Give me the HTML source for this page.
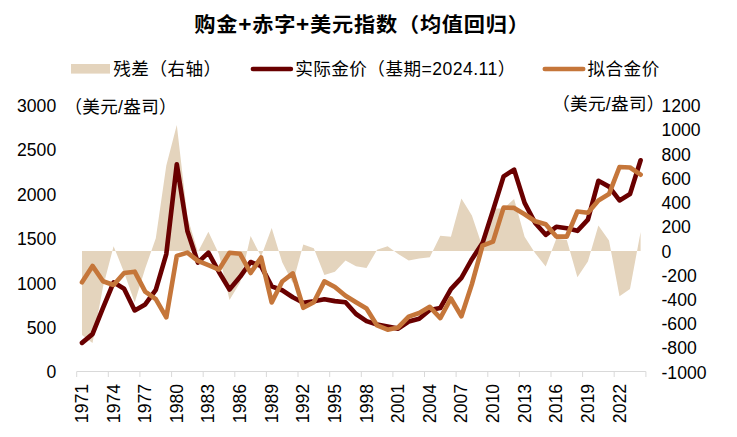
<!DOCTYPE html>
<html lang="zh"><head><meta charset="utf-8"><title>购金+赤字+美元指数（均值回归）</title>
<style>html,body{margin:0;padding:0;background:#fff}svg{display:block}text{font-family:"Liberation Sans","Noto Sans CJK SC",sans-serif;fill:#000}</style></head><body>
<svg width="737" height="437" viewBox="0 0 737 437">
<rect width="737" height="437" fill="#fff"/>
<text transform="translate(194.3,31.5) scale(1,0.94)" font-size="21.2" font-weight="bold" letter-spacing="0.77">购金<tspan font-size="22.6">+</tspan>赤字<tspan font-size="22.6">+</tspan>美元指数（均值回归）</text>
<rect x="71" y="64" width="39" height="9.6" fill="#E4D4BD"/>
<text x="113.3" y="75.0" font-size="17.6" letter-spacing="0.45">残差（右轴）</text>
<line x1="252.9" y1="69.0" x2="290.9" y2="69.0" stroke="#690000" stroke-width="4.6" stroke-linecap="round"/>
<text x="295.2" y="75.0" font-size="17.6" letter-spacing="0.45">实际金价（基期=2024.11）</text>
<line x1="544.8" y1="69.0" x2="583.2" y2="69.0" stroke="#C5763A" stroke-width="4.6" stroke-linecap="round"/>
<text x="587.5" y="75.0" font-size="17.6" letter-spacing="0.45">拟合金价</text>
<text x="64.4" y="112.8" font-size="17.6" letter-spacing="0.3">（美元/盎司）</text>
<text x="552.2" y="110.0" font-size="17.6" letter-spacing="0.3">（美元/盎司）</text>
<text x="56.2" y="378.3" text-anchor="end" font-size="17.6">0</text>
<text x="56.2" y="333.9" text-anchor="end" font-size="17.6">500</text>
<text x="56.2" y="289.5" text-anchor="end" font-size="17.6">1000</text>
<text x="56.2" y="245.1" text-anchor="end" font-size="17.6">1500</text>
<text x="56.2" y="200.6" text-anchor="end" font-size="17.6">2000</text>
<text x="56.2" y="156.2" text-anchor="end" font-size="17.6">2500</text>
<text x="56.2" y="111.8" text-anchor="end" font-size="17.6">3000</text>
<text x="661.5" y="112.1" font-size="17.6">1200</text>
<text x="661.5" y="136.3" font-size="17.6">1000</text>
<text x="661.5" y="160.6" font-size="17.6">800</text>
<text x="661.5" y="184.8" font-size="17.6">600</text>
<text x="661.5" y="209.0" font-size="17.6">400</text>
<text x="661.5" y="233.2" font-size="17.6">200</text>
<text x="661.5" y="257.5" font-size="17.6">0</text>
<text x="661.5" y="281.7" font-size="17.6">-200</text>
<text x="661.5" y="305.9" font-size="17.6">-400</text>
<text x="661.5" y="330.1" font-size="17.6">-600</text>
<text x="661.5" y="354.4" font-size="17.6">-800</text>
<text x="661.5" y="378.6" font-size="17.6">-1000</text>
<path d="M82.0,251.0 L82.0,335.0 L92.5,343.0 L103.0,287.1 L113.6,246.2 L124.1,272.4 L134.7,302.5 L145.2,268.5 L155.8,238.2 L166.3,165.5 L176.8,125.0 L187.4,217.0 L197.9,252.0 L208.4,231.8 L219.0,254.3 L229.5,300.0 L240.1,282.4 L250.6,236.0 L261.1,256.5 L271.7,227.9 L282.2,262.3 L292.8,283.0 L303.3,244.6 L313.8,248.3 L324.4,275.0 L334.9,271.7 L345.5,260.4 L356.0,266.2 L366.5,268.0 L377.1,249.8 L387.6,246.3 L398.2,254.1 L408.7,260.4 L419.2,258.4 L429.8,257.2 L440.3,235.8 L450.9,236.8 L461.4,198.6 L471.9,215.4 L482.5,247.0 L493.0,208.5 L503.6,208.5 L514.1,199.1 L524.6,236.8 L535.2,253.2 L545.7,266.5 L556.3,238.8 L566.8,240.0 L577.4,277.3 L587.9,261.5 L598.4,225.6 L609.0,240.4 L619.5,296.2 L630.0,289.1 L640.6,231.9 L640.6,251.0 Z" fill="#E4D4BD"/>
<g stroke="#D9D9D9" stroke-width="1" fill="none">
<line x1="76.7" y1="371.5" x2="645.9" y2="371.5"/>
<line x1="76.7" y1="371.5" x2="76.7" y2="377.0"/>
<line x1="108.3" y1="371.5" x2="108.3" y2="377.0"/>
<line x1="139.9" y1="371.5" x2="139.9" y2="377.0"/>
<line x1="171.6" y1="371.5" x2="171.6" y2="377.0"/>
<line x1="203.2" y1="371.5" x2="203.2" y2="377.0"/>
<line x1="234.8" y1="371.5" x2="234.8" y2="377.0"/>
<line x1="266.4" y1="371.5" x2="266.4" y2="377.0"/>
<line x1="298.0" y1="371.5" x2="298.0" y2="377.0"/>
<line x1="329.7" y1="371.5" x2="329.7" y2="377.0"/>
<line x1="361.3" y1="371.5" x2="361.3" y2="377.0"/>
<line x1="392.9" y1="371.5" x2="392.9" y2="377.0"/>
<line x1="424.5" y1="371.5" x2="424.5" y2="377.0"/>
<line x1="456.1" y1="371.5" x2="456.1" y2="377.0"/>
<line x1="487.8" y1="371.5" x2="487.8" y2="377.0"/>
<line x1="519.4" y1="371.5" x2="519.4" y2="377.0"/>
<line x1="551.0" y1="371.5" x2="551.0" y2="377.0"/>
<line x1="582.6" y1="371.5" x2="582.6" y2="377.0"/>
<line x1="614.2" y1="371.5" x2="614.2" y2="377.0"/>
<line x1="645.9" y1="371.5" x2="645.9" y2="377.0"/>
</g>
<text transform="translate(88.0,384.0) rotate(-90)" text-anchor="end" font-size="17.6">1971</text>
<text transform="translate(119.6,384.0) rotate(-90)" text-anchor="end" font-size="17.6">1974</text>
<text transform="translate(151.2,384.0) rotate(-90)" text-anchor="end" font-size="17.6">1977</text>
<text transform="translate(182.8,384.0) rotate(-90)" text-anchor="end" font-size="17.6">1980</text>
<text transform="translate(214.4,384.0) rotate(-90)" text-anchor="end" font-size="17.6">1983</text>
<text transform="translate(246.1,384.0) rotate(-90)" text-anchor="end" font-size="17.6">1986</text>
<text transform="translate(277.7,384.0) rotate(-90)" text-anchor="end" font-size="17.6">1989</text>
<text transform="translate(309.3,384.0) rotate(-90)" text-anchor="end" font-size="17.6">1992</text>
<text transform="translate(340.9,384.0) rotate(-90)" text-anchor="end" font-size="17.6">1995</text>
<text transform="translate(372.5,384.0) rotate(-90)" text-anchor="end" font-size="17.6">1998</text>
<text transform="translate(404.2,384.0) rotate(-90)" text-anchor="end" font-size="17.6">2001</text>
<text transform="translate(435.8,384.0) rotate(-90)" text-anchor="end" font-size="17.6">2004</text>
<text transform="translate(467.4,384.0) rotate(-90)" text-anchor="end" font-size="17.6">2007</text>
<text transform="translate(499.0,384.0) rotate(-90)" text-anchor="end" font-size="17.6">2010</text>
<text transform="translate(530.6,384.0) rotate(-90)" text-anchor="end" font-size="17.6">2013</text>
<text transform="translate(562.3,384.0) rotate(-90)" text-anchor="end" font-size="17.6">2016</text>
<text transform="translate(593.9,384.0) rotate(-90)" text-anchor="end" font-size="17.6">2019</text>
<text transform="translate(625.5,384.0) rotate(-90)" text-anchor="end" font-size="17.6">2022</text>
<polyline points="82.0,342.9 92.5,334.1 103.0,307.8 113.6,282.3 124.1,288.7 134.7,310.4 145.2,304.4 155.8,289.8 166.3,254.1 176.8,164.3 187.4,231.0 197.9,262.6 208.4,252.6 219.0,272.0 229.5,289.5 240.1,276.8 250.6,262.0 261.1,266.2 271.7,286.4 282.2,290.3 292.8,297.3 303.3,302.7 313.8,301.3 324.4,299.3 334.9,301.1 345.5,302.3 356.0,314.0 366.5,321.1 377.1,324.6 387.6,326.6 398.2,328.6 408.7,321.6 419.2,318.8 429.8,310.0 440.3,308.0 450.9,289.1 461.4,277.8 471.9,259.2 482.5,243.1 493.0,210.4 503.6,176.4 514.1,169.6 524.6,202.9 535.2,223.0 545.7,234.8 556.3,226.8 566.8,228.3 577.4,230.8 587.9,219.6 598.4,180.8 609.0,186.6 619.5,200.4 630.0,194.1 640.6,160.3" fill="none" stroke="#690000" stroke-width="4.65" stroke-linejoin="round" stroke-linecap="round"/>
<polyline points="82.0,282.3 92.5,265.9 103.0,281.3 113.6,285.0 124.1,273.0 134.7,271.7 145.2,291.6 155.8,299.2 166.3,317.3 176.8,255.9 187.4,252.6 197.9,260.8 208.4,265.2 219.0,269.6 229.5,252.8 240.1,253.8 250.6,273.0 261.1,257.5 271.7,302.5 282.2,281.5 292.8,273.4 303.3,307.8 313.8,302.3 324.4,281.4 334.9,287.0 345.5,295.8 356.0,302.3 366.5,308.6 377.1,325.4 387.6,329.7 398.2,327.4 408.7,316.6 419.2,313.0 429.8,306.8 440.3,318.1 450.9,298.5 461.4,316.3 471.9,284.1 482.5,245.6 493.0,241.6 503.6,207.6 514.1,207.9 524.6,214.2 535.2,221.2 545.7,224.3 556.3,236.6 566.8,236.6 577.4,211.5 587.9,212.7 598.4,200.4 609.0,194.1 619.5,167.0 630.0,167.5 640.6,174.7" fill="none" stroke="#C5763A" stroke-width="4.65" stroke-linejoin="round" stroke-linecap="round"/>
</svg></body></html>
